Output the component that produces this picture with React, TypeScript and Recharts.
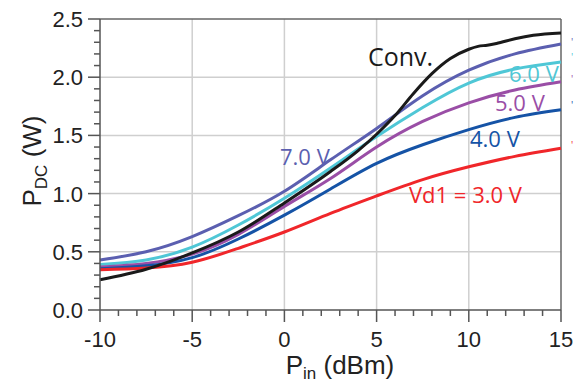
import { LineChart, Line, XAxis, YAxis, CartesianGrid, ReferenceLine } from "recharts"

const pinX = [-10, -7.5, -5, -2.5, 0, 2.5, 5, 7.5, 10, 12.5, 15]
const vd7 = [0.43, 0.5, 0.63, 0.81, 1.02, 1.29, 1.56, 1.84, 2.06, 2.2, 2.285]
const vd6 = [0.39, 0.43, 0.54, 0.73, 0.96, 1.22, 1.49, 1.74, 1.95, 2.07, 2.13]
const vd5 = [0.37, 0.4, 0.48, 0.65, 0.89, 1.13, 1.4, 1.62, 1.78, 1.89, 1.96]
const vd4 = [0.355, 0.38, 0.45, 0.61, 0.815, 1.04, 1.26, 1.42, 1.55, 1.655, 1.72]
const vd3 = [0.345, 0.36, 0.41, 0.53, 0.67, 0.83, 0.98, 1.12, 1.23, 1.32, 1.39]

const convX = [-10, -7.5, -5, -2.5, 0, 2.5, 4, 5, 6, 7, 8, 9, 10, 10.5, 11, 11.5, 12.5, 13.5, 15]
const conv = [0.26, 0.35, 0.49, 0.67, 0.92, 1.19, 1.37, 1.51, 1.67, 1.86, 2.03, 2.16, 2.24, 2.265, 2.275, 2.29, 2.33, 2.36, 2.38]

const xMajor = [-10, -5, 0, 5, 10, 15]
const xTicks = [-10, -9, -8, -7, -6, -5, -4, -3, -2, -1, 0, 1, 2, 3, 4, 5, 6, 7, 8, 9, 10, 11, 12, 13, 14, 15]
const yMajor = [0, 0.5, 1, 1.5, 2, 2.5]
const yTicks = [0, 0.1, 0.2, 0.3, 0.4, 0.5, 0.6, 0.7, 0.8, 0.9, 1, 1.1, 1.2, 1.3, 1.4, 1.5, 1.6, 1.7, 1.8, 1.9, 2, 2.1, 2.2, 2.3, 2.4, 2.5]

const series = [
  { name: "7.0 V", values: vd7, color: "#5b5fb0" },
  { name: "6.0 V", values: vd6, color: "#4fc7d6" },
  { name: "5.0 V", values: vd5, color: "#9a4ea6" },
  { name: "4.0 V", values: vd4, color: "#1553a6" },
  { name: "3.0 V", values: vd3, color: "#f0262a" },
]

const tickFont = "'Liberation Sans', Arial, sans-serif"
const labelFont = "'Open Sans', 'Noto Sans', sans-serif"

const XTick = (props: any) => {
  const { x, y, payload } = props
  const major = xMajor.includes(payload.value)
  return (
    <g>
      <line x1={x} x2={x} y1={y} y2={y + (major ? 12 : 6)} stroke="#555" strokeWidth={1.5} />
      {major && (
        <text x={x} y={y + 37} textAnchor="middle" fontSize={22} fill="#222" fontFamily={tickFont}>
          {payload.value}
        </text>
      )}
    </g>
  )
}

const YTick = (props: any) => {
  const { x, y, payload } = props
  const major = yMajor.includes(payload.value)
  return (
    <g>
      <line x1={x - (major ? 12 : 6)} x2={x} y1={y} y2={y} stroke="#555" strokeWidth={1.5} />
      {major && (
        <text x={x - 17} y={y + 8} textAnchor="end" fontSize={22} fill="#222" fontFamily={tickFont}>
          {payload.value.toFixed(1)}
        </text>
      )}
    </g>
  )
}

export default function App() {
  const convData = convX.map((x, i) => ({ x, y: conv[i] }))
  return (
    <div style={{ position: "absolute", left: 0, top: 0, width: 575, height: 383, overflow: "hidden", background: "#fff" }}>
      <LineChart width={584} height={383} margin={{ top: 19, right: 23, left: 0, bottom: 0 }}>
        <CartesianGrid
          stroke="#cfcfcf"
          strokeWidth={1.5}
          horizontalValues={[0.5, 1, 1.5, 2]}
          verticalValues={[-5, 0, 5, 10]}
        />
        <XAxis
          type="number"
          dataKey="x"
          domain={[-10, 15]}
          ticks={xTicks}
          interval={0}
          height={73}
          tickSize={0}
          tickMargin={0}
          tickLine={false}
          tick={<XTick />}
          axisLine={{ stroke: "#555", strokeWidth: 1.5 }}
          allowDuplicatedCategory={false}
        />
        <YAxis
          type="number"
          domain={[0, 2.5]}
          ticks={yTicks}
          interval={0}
          width={100}
          tickSize={0}
          tickMargin={0}
          tickLine={false}
          tick={<YTick />}
          axisLine={{ stroke: "#555", strokeWidth: 1.5 }}
        />
        <ReferenceLine y={2.5} stroke="#666" strokeWidth={1.5} />
        <ReferenceLine x={15} stroke="#666" strokeWidth={1.5} />
        {series.map((s) => (
          <Line
            key={s.name}
            data={pinX.map((x, i) => ({ x, y: s.values[i] }))}
            dataKey="y"
            type="natural"
            stroke={s.color}
            strokeWidth={3}
            dot={false}
            isAnimationActive={false}
          />
        ))}
        <Line data={convData} dataKey="y" type="monotone" stroke="#1a1a1a" strokeWidth={3} dot={false} isAnimationActive={false} />
      </LineChart>
      <svg width={584} height={383} style={{ position: "absolute", left: 0, top: 0, pointerEvents: "none" }}>
        <text x={340} y={374} textAnchor="middle" fontSize={26} fill="#222" fontFamily={tickFont}>
          P<tspan fontSize={17} dy={5}>in</tspan>
          <tspan dy={-5}> (dBm)</tspan>
        </text>
        <text transform="translate(41,161) rotate(-90)" textAnchor="middle" fontSize={26} fill="#222" fontFamily={tickFont}>
          P<tspan fontSize={17} dy={6}>DC</tspan>
          <tspan dy={-6}> (W)</tspan>
        </text>
        <text x={368} y={66} fontSize={25} fill="#1a1a1a" fontFamily={labelFont}>Conv.</text>
        <text x={280} y={165} fontSize={22} fill="#5b5fb0" fontFamily={labelFont}>7.0 V</text>
        <text x={509} y={82} fontSize={22} fill="#4fc7d6" fontFamily={labelFont}>6.0 V</text>
        <text x={495} y={111} fontSize={22} fill="#9a4ea6" fontFamily={labelFont}>5.0 V</text>
        <text x={470} y={147} fontSize={22} fill="#1553a6" fontFamily={labelFont}>4.0 V</text>
        <text x={409} y={203} fontSize={22} fill="#f0262a" fontFamily={labelFont}>Vd1 = 3.0 V</text>
        {series.map((s, i) => (
          <text key={s.name} x={571} y={[46, 61, 83, 109, 149][i]} fontSize={10} fill={s.color} fontFamily={labelFont}>'</text>
        ))}
      </svg>
    </div>
  )
}
